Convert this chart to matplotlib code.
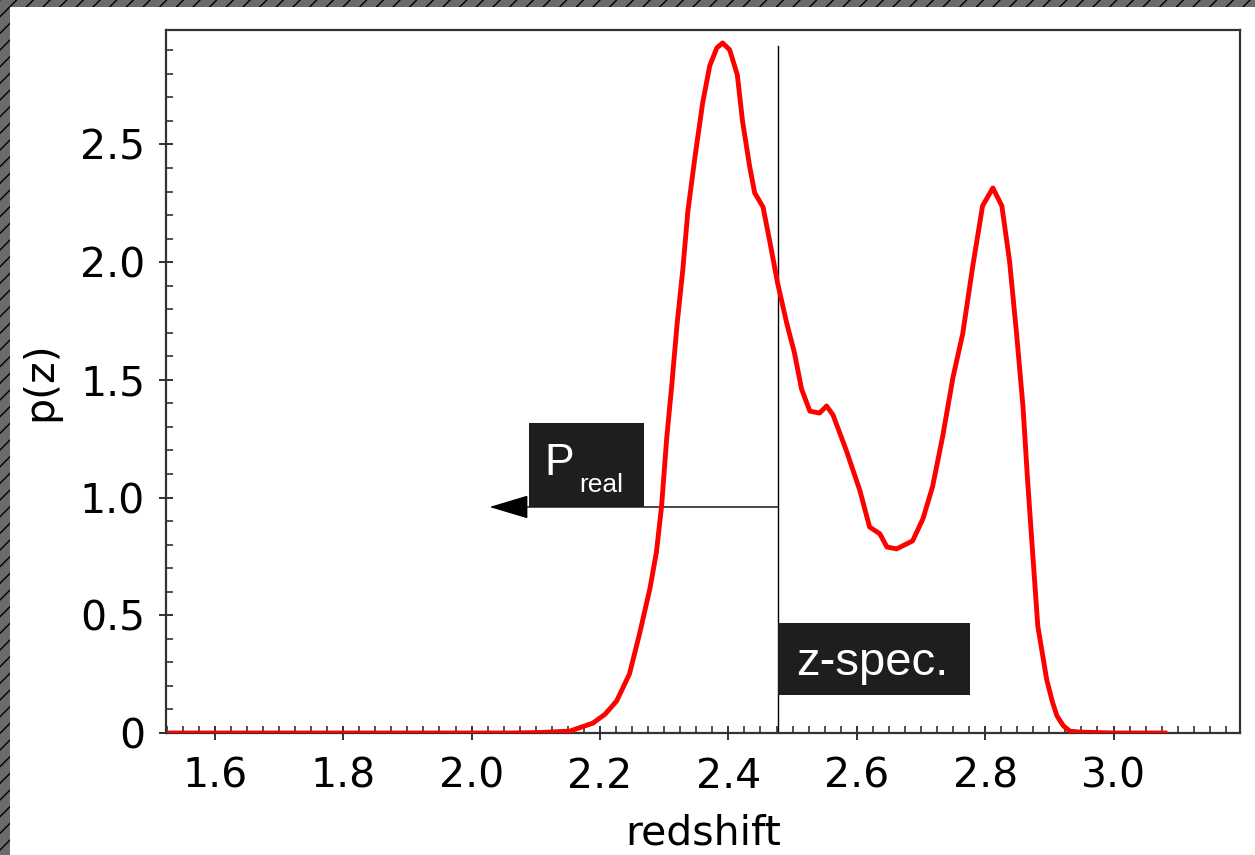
import matplotlib
matplotlib.use("Agg")
import matplotlib.pyplot as plt
from matplotlib.patches import Rectangle
from matplotlib.ticker import MultipleLocator, FuncFormatter

# ==========================================================
# DATA: photometric redshift probability p(z)
# ==========================================================

redshift = [1.53, 1.80, 2.00, 2.06, 2.106, 2.153, 2.189, 2.208, 2.226, 2.246,
            2.262, 2.278, 2.288, 2.296, 2.304, 2.312, 2.320, 2.329, 2.337,
            2.348, 2.360, 2.371, 2.382, 2.391, 2.402, 2.414, 2.422, 2.433,
            2.441, 2.454, 2.465, 2.477, 2.491, 2.503, 2.514, 2.527, 2.542,
            2.553, 2.563, 2.584, 2.605, 2.620, 2.636, 2.647, 2.662, 2.687,
            2.703, 2.718, 2.734, 2.750, 2.765, 2.781, 2.796, 2.812, 2.826,
            2.838, 2.849, 2.859, 2.866, 2.874, 2.882, 2.896, 2.905, 2.912,
            2.922, 2.932, 2.947, 3.00, 3.08]
pz = [0.0, 0.0, 0.0, 0.0, 0.002, 0.008, 0.042, 0.08, 0.136, 0.251,
      0.425, 0.616, 0.769, 0.964, 1.253, 1.482, 1.733, 1.967, 2.218,
      2.447, 2.677, 2.834, 2.910, 2.931, 2.902, 2.795, 2.600, 2.409,
      2.294, 2.234, 2.081, 1.907, 1.740, 1.614, 1.461, 1.367, 1.359,
      1.389, 1.351, 1.198, 1.029, 0.875, 0.846, 0.790, 0.782, 0.816,
      0.909, 1.045, 1.262, 1.512, 1.695, 1.988, 2.239, 2.315, 2.239,
      2.005, 1.695, 1.385, 1.079, 0.765, 0.455, 0.225, 0.13, 0.072,
      0.03, 0.008, 0.004, 0.0, 0.0]

z_spec = 2.477          # spectroscopic redshift (vertical marker)
z_spec_top = 2.918      # top of the vertical marker
p_real = 0.96           # level of the P_real arrow
arrow_end = 2.028       # where the arrow points to

x_ticks = [1.6, 1.8, 2.0, 2.2, 2.4, 2.6, 2.8, 3.0]
y_ticks = [0, 0.5, 1.0, 1.5, 2.0, 2.5]

BOX_COLOR = "#1e1e1e"

# ==========================================================
# FIGURE
# ==========================================================

fig = plt.figure(figsize=(12.55, 8.55), dpi=100)

# hatched frame (left / top border)
fig.patches.append(Rectangle((0, 0), 1, 1, transform=fig.transFigure,
                             facecolor="#6b6b6b", edgecolor="black",
                             hatch="//", linewidth=0, zorder=-10))
fig.patches.append(Rectangle((10 / 1255, 0), 1, 1 - 7 / 855,
                             transform=fig.transFigure, facecolor="white",
                             edgecolor="none", zorder=-9))

ax = fig.add_axes([166 / 1255, 122 / 855, 1074 / 1255, 703 / 855])
ax.set_facecolor("white")

ax.plot(redshift, pz, color="#ff0000", linewidth=3.5, zorder=3,
        solid_joinstyle="round")

# spectroscopic redshift marker
ax.plot([z_spec, z_spec], [0, z_spec_top], color="black", linewidth=1, zorder=2)
ax.annotate("", xy=(arrow_end, p_real), xytext=(z_spec, p_real),
            arrowprops=dict(arrowstyle="-|>,head_length=2.5,head_width=0.75",
                            mutation_scale=10, color="black", lw=1,
                            shrinkA=0, shrinkB=0), zorder=2)

# label boxes
ax.add_patch(Rectangle((2.089, p_real), 0.179, 0.357, facecolor=BOX_COLOR,
                       edgecolor="none", zorder=4))
ax.text(2.114, 1.096, "P", color="white", fontsize=32,
        family="Liberation Sans", va="baseline", ha="left", zorder=5)
ax.text(2.168, 1.024, "real", color="white", fontsize=19,
        family="Liberation Sans", va="baseline", ha="left", zorder=5)

ax.add_patch(Rectangle((z_spec, 0.161), 0.299, 0.306, facecolor=BOX_COLOR,
                       edgecolor="none", zorder=4))
ax.text(2.505, 0.246, "z-spec.", color="white", fontsize=34,
        family="Liberation Sans", va="baseline", ha="left", zorder=5)

# axes styling
ax.set_xlim(1.524, 3.197)
ax.set_ylim(0, 2.986)

ax.xaxis.set_major_locator(MultipleLocator(0.2))
ax.xaxis.set_minor_locator(MultipleLocator(0.025))
ax.yaxis.set_major_locator(MultipleLocator(0.5))
ax.yaxis.set_minor_locator(MultipleLocator(0.1))
ax.xaxis.set_major_formatter(FuncFormatter(lambda v, _: f"{v:.1f}"))
ax.yaxis.set_major_formatter(
    FuncFormatter(lambda v, _: "0" if abs(v) < 1e-9 else f"{v:.1f}"))

ax.tick_params(which="major", direction="inout", length=10, width=1.3,
               labelsize=29.5, color="#222222")
ax.tick_params(which="minor", direction="in", length=5, width=1.1,
               color="#222222")
ax.tick_params(axis="x", which="major", pad=12)
ax.tick_params(axis="y", which="major", pad=10)
ax.tick_params(top=False, right=False, which="both")

for spine in ax.spines.values():
    spine.set_color("#333333")
    spine.set_linewidth(1.6)

ax.set_xlabel("redshift", fontsize=29.5, labelpad=12)
ax.set_ylabel("p(z)", fontsize=29.5, labelpad=14)

plt.savefig("out.png", dpi=100)
plt.close()
